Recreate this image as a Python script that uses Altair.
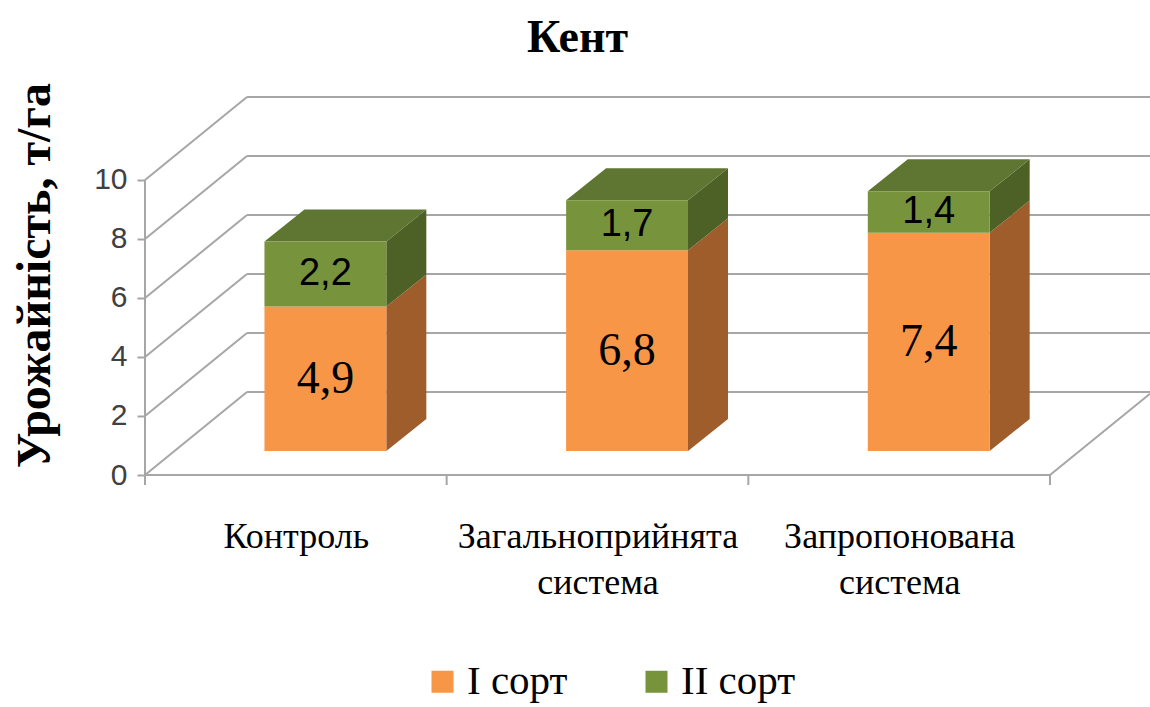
import json
import altair as alt
import pandas as pd

# ---- data ----
categories = ["Контроль", "Загальноприйнята система", "Запропонована система"]
series = ["I сорт", "II сорт"]
sort1 = [4.9, 6.8, 7.4]
sort2 = [2.2, 1.7, 1.4]
y_ticks = [0, 2, 4, 6, 8, 10]

# ---- geometry of the pseudo-3D box (data units) ----
W, H = 1005, 380
XMAX = 3.3315
YMAX = 12.88
DX, DY = 0.338, 2.81      # full depth of the wall/floor
BX, BY = 0.098, 0.815     # depth of the bars' front plane
BW = 0.404                # bar width
SX, SY = 0.1326, 1.085    # bar depth

ORANGE, ORANGE_SIDE = "#F79646", "#9E5D2B"
GREEN, GREEN_SIDE, GREEN_TOP = "#77933C", "#4D6127", "#5E7631"
GRID = "#A6A6A6"
YTITLE = "Урожайність, т/га"
SERIF = "Liberation Serif"

xs = alt.Scale(domain=[0, XMAX], nice=False, zero=False)
ys = alt.Scale(domain=[0, YMAX], nice=False, zero=False)

# ---- walls and floor ----
grid_rows = []
for v in y_ticks:
    grid_rows.append(dict(x=0, y=v, x2=DX, y2=v + DY))
    grid_rows.append(dict(x=DX, y=v + DY, x2=XMAX, y2=v + DY))
n = len(categories)
grid_rows.append(dict(x=0, y=0, x2=n, y2=0))
grid_rows.append(dict(x=n, y=0, x2=XMAX, y2=DY * (XMAX - n) / DX))
grid_rows.append(dict(x=0, y=0, x2=0, y2=max(y_ticks)))
for i in range(n + 1):
    grid_rows.append(dict(x=i, y=0, x2=i, y2=-0.34))
grid_df = pd.DataFrame(grid_rows)

yaxis = alt.Axis(values=y_ticks, domain=False, grid=False, tickSize=8, tickColor=GRID,
                 tickWidth=2, labelFont="Liberation Sans", labelFontSize=30,
                 labelColor="#404040", labelPadding=10,
                 titleFont=SERIF, titleFontSize=48,
                 titleFontWeight="bold", titleColor="black", titleAngle=270,
                 titleX=-110, titleY=180, titleAlign="center", titleBaseline="middle")

arr = json.dumps(categories, ensure_ascii=False)
label_axis = alt.Axis(values=[0.5, 1.5, 2.5], ticks=False, domain=False, grid=False,
                      labelExpr=f"split({arr}[floor(datum.value)], ' ')",
                      labelFont=SERIF, labelFontSize=36, labelPadding=44,
                      labelLineHeight=46, labelColor="black", labelBaseline="top",
                      labelOverlap=False, labelLimit=600)


def X(field, axis=alt.Undefined):
    return alt.X(field, scale=xs, axis=axis, title=None)


def Y(field, axis=alt.Undefined, **kw):
    return alt.Y(field, scale=ys, axis=axis, title=YTITLE, **kw)


grid = alt.Chart(grid_df).mark_rule(color=GRID, strokeWidth=2).encode(
    x=X("x:Q", label_axis), x2="x2:Q", y=Y("y:Q", yaxis), y2="y2:Q",
)

# ---- bars ----
front, side_o, side_g, top, labels = [], [], [], [], []
for i, (c, a, b) in enumerate(zip(categories, sort1, sort2)):
    xc = i + 0.5 + BX
    x1, x2 = xc - BW / 2, xc + BW / 2
    front.append(dict(cat=c, series=series[0], x1=x1, x2=x2, y1=BY, y2=BY + a))
    front.append(dict(cat=c, series=series[1], x1=x1, x2=x2, y1=BY + a, y2=BY + a + b))
    side_o.append(dict(cat=c, x=x2, lo=BY, hi=BY + a))
    side_o.append(dict(cat=c, x=x2 + SX, lo=BY + SY, hi=BY + a + SY))
    side_g.append(dict(cat=c, x=x2, lo=BY + a, hi=BY + a + b))
    side_g.append(dict(cat=c, x=x2 + SX, lo=BY + a + SY, hi=BY + a + b + SY))
    T = BY + a + b
    top += [dict(cat=c, x=x1, lo=T, hi=T), dict(cat=c, x=x1 + SX, lo=T, hi=T + SY),
            dict(cat=c, x=x2, lo=T, hi=T + SY), dict(cat=c, x=x2 + SX, lo=T + SY, hi=T + SY)]
    labels.append(dict(cat=c, kind="o", x=xc, y=BY + a / 2, t=f"{a:.1f}".replace(".", ",")))
    labels.append(dict(cat=c, kind="g", x=xc, y=BY + a + b / 2, t=f"{b:.1f}".replace(".", ",")))

front_layer = alt.Chart(pd.DataFrame(front)).mark_rect().encode(
    x=X("x1:Q"), x2="x2:Q", y=Y("y1:Q"), y2="y2:Q",
    color=alt.Color("series:N", scale=alt.Scale(domain=series, range=[ORANGE, GREEN]),
                    legend=alt.Legend(title=None, orient="none", legendX=277, legendY=566,
                                      direction="horizontal", symbolType="square",
                                      symbolSize=484, symbolStrokeWidth=0,
                                      labelFont="Times New Roman", labelFontSize=41,
                                      labelColor="black", columnPadding=68, labelOffset=4)),
)


def face(rows, color):
    return alt.Chart(pd.DataFrame(rows)).mark_area(color=color, opacity=1).encode(
        x=X("x:Q"), y=Y("lo:Q", stack=None), y2="hi:Q", detail="cat:N",
    )


lab_df = pd.DataFrame(labels)
lab_o = alt.Chart(lab_df).transform_filter("datum.kind == 'o'").mark_text(
    font=SERIF, fontSize=46, color="black", baseline="middle").encode(
    x=X("x:Q"), y=Y("y:Q"), text="t:N")
lab_g = alt.Chart(lab_df).transform_filter("datum.kind == 'g'").mark_text(
    font="Liberation Sans", fontSize=38, color="black", baseline="middle").encode(
    x=X("x:Q"), y=Y("y:Q"), text="t:N")

chart = alt.layer(
    grid, face(side_o, ORANGE_SIDE), face(side_g, GREEN_SIDE), face(top, GREEN_TOP),
    front_layer, lab_o, lab_g,
).properties(
    width=W, height=H,
    title=alt.Title("Кент", font=SERIF, fontSize=46, fontWeight="bold",
                    color="black", anchor="middle", dx=-70, offset=20),
    padding={"left": 145, "top": 95, "right": 0, "bottom": 232},
    autosize=alt.AutoSizeParams(type="none"),
    background="white",
).configure_view(stroke=None)

chart.save("out.html", embed_options={"renderer": "svg", "actions": False})
